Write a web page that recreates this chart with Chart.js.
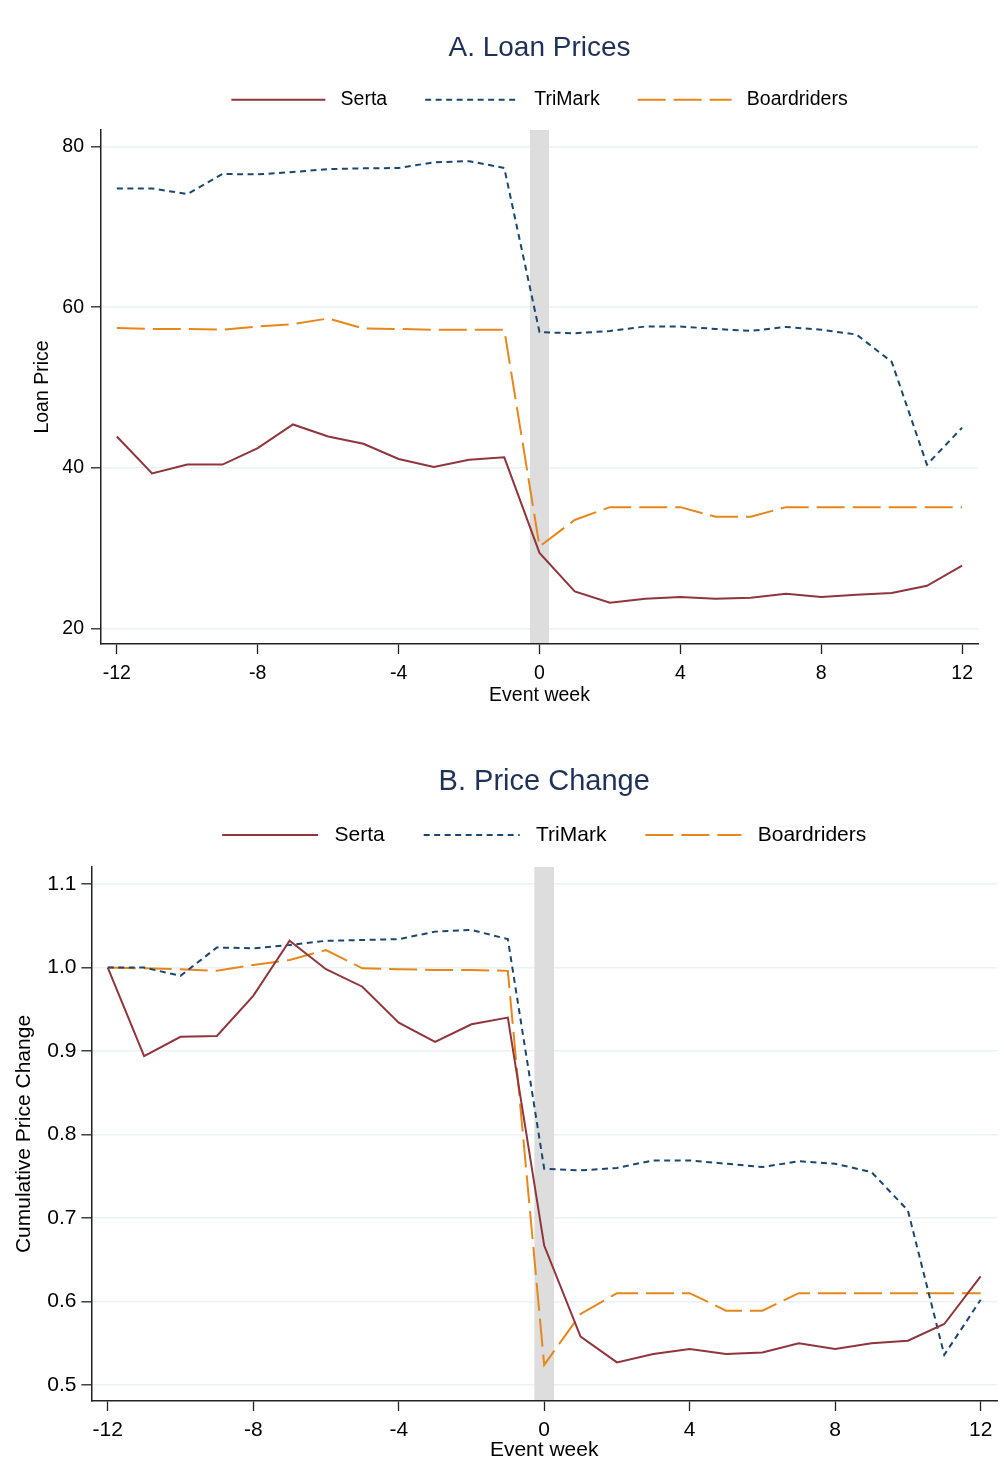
<!DOCTYPE html>
<html>
<head>
<meta charset="utf-8">
<script src="https://cdn.jsdelivr.net/npm/chart.js@4.4.1/dist/chart.umd.min.js"></script>
<style>
  body { margin: 0; background: #fff; }
  canvas { display: block; }
</style>
</head>
<body>
<canvas id="loanChart" width="1004" height="732"></canvas>
<canvas id="changeChart" width="1004" height="732"></canvas>
<script>
// event weeks
const weeks = [-12, -11, -10, -9, -8, -7, -6, -5, -4, -3, -2, -1, 0, 1, 2, 3, 4, 5, 6, 7, 8, 9, 10, 11, 12];

// A. loan prices
const sertaPrice = [43.9, 39.3, 40.4, 40.4, 42.45, 45.4, 43.9, 43.0, 41.1, 40.1, 41.0, 41.3, 29.4, 24.6, 23.2, 23.7, 23.9, 23.7, 23.8, 24.3, 23.9, 24.2, 24.4, 25.3, 27.8];
const trimarkPrice = [74.8, 74.8, 74.1, 76.6, 76.55, 76.85, 77.2, 77.3, 77.35, 78.05, 78.2, 77.35, 56.9, 56.75, 57.05, 57.6, 57.6, 57.3, 57.05, 57.55, 57.2, 56.6, 53.2, 40.4, 45.0];
const boardPrice = [57.4, 57.3, 57.3, 57.2, 57.6, 57.9, 58.6, 57.35, 57.3, 57.2, 57.2, 57.2, 30.2, 33.5, 35.1, 35.1, 35.1, 33.9, 33.9, 35.1, 35.1, 35.1, 35.1, 35.1, 35.1];

// B. cumulative price change
const sertaChange = [1.0, 0.894, 0.917, 0.918, 0.966, 1.032, 0.998, 0.977, 0.934, 0.911, 0.932, 0.940, 0.667, 0.558, 0.527, 0.537, 0.543, 0.537, 0.539, 0.550, 0.543, 0.550, 0.553, 0.573, 0.630];
const trimarkChange = [1.0, 1.0, 0.990, 1.024, 1.023, 1.027, 1.032, 1.033, 1.034, 1.043, 1.045, 1.034, 0.759, 0.757, 0.760, 0.769, 0.769, 0.765, 0.761, 0.768, 0.765, 0.755, 0.709, 0.536, 0.602];
const boardChange = [1.0, 0.999, 0.998, 0.996, 1.003, 1.009, 1.021, 0.999, 0.998, 0.997, 0.997, 0.996, 0.524, 0.585, 0.610, 0.610, 0.610, 0.589, 0.589, 0.610, 0.610, 0.610, 0.610, 0.610, 0.610];

const seriesNames = ['Serta', 'TriMark', 'Boardriders'];
const xTicks = [-12, -8, -4, 0, 4, 8, 12];
const yTicksPrice = [20, 40, 60, 80];
const yTicksChange = [0.5, 0.6, 0.7, 0.8, 0.9, 1.0, 1.1];
const eventBand = [-0.27, 0.27];

Chart.defaults.font.family = '"Liberation Sans", Arial, sans-serif';
Chart.defaults.color = '#000';

const bandPlugin = {
    id: 'eventBand',
    beforeDatasetsDraw(chart) {
        const {ctx, chartArea, scales} = chart;
        const x0 = scales.x.getPixelForValue(eventBand[0]);
        const x1 = scales.x.getPixelForValue(eventBand[1]);
        ctx.save();
        ctx.fillStyle = '#dddddd';
        ctx.fillRect(x0, chartArea.top, x1 - x0, chartArea.bottom - chartArea.top - 1);
        ctx.restore();
    }
};

function makeDatasets(values) {
    const styles = [
        {color: '#90353b', dash: []},
        {color: '#1a476f', dash: [6, 4.5]},
        {color: '#e8861a', dash: [28, 8]}
    ];
    return values.map((vals, i) => ({
        label: seriesNames[i],
        data: weeks.map((w, j) => ({x: w, y: vals[j]})),
        borderColor: styles[i].color,
        backgroundColor: styles[i].color,
        borderDash: styles[i].dash,
        borderWidth: 2,
        pointRadius: 0,
        tension: 0
    }));
}

function drawChart(canvasId, cfg) {
    const s = cfg.fontSize;
    new Chart(document.getElementById(canvasId), {
        type: 'line',
        data: {datasets: makeDatasets(cfg.values)},
        plugins: [bandPlugin],
        options: {
            responsive: false,
            animation: false,
            devicePixelRatio: 1,
            layout: {padding: {left: 0, right: cfg.padRight, top: 0, bottom: 0}},
            plugins: {
                tooltip: {enabled: false},
                title: {
                    display: true,
                    text: cfg.title,
                    fullSize: false,
                    color: '#1f3158',
                    font: {size: cfg.titleSize, weight: 'normal'},
                    padding: {top: cfg.titleTop, bottom: cfg.titleBottom}
                },
                legend: {
                    display: true,
                    fullSize: false,
                    labels: {
                        usePointStyle: true,
                        pointStyle: 'line',
                        pointStyleWidth: cfg.legendLine,
                        padding: cfg.legendGap,
                        font: {size: s},
                        color: '#000',
                        generateLabels(chart) {
                            const items = Chart.defaults.plugins.legend.labels.generateLabels(chart);
                            items.forEach(it => {
                                const ds = chart.data.datasets[it.datasetIndex];
                                it.text = ' ' + it.text;
                                it.lineDash = ds.borderDash;
                                it.lineWidth = ds.borderWidth;
                                it.strokeStyle = ds.borderColor;
                            });
                            return items;
                        }
                    }
                }
            },
            scales: {
                x: {
                    type: 'linear',
                    min: -12.45,
                    max: 12.45,
                    afterBuildTicks: sc => { sc.ticks = xTicks.map(v => ({value: v})); },
                    afterFit: sc => { sc.height = cfg.xHeight; },
                    grid: {drawOnChartArea: false, color: 'rgba(0,0,0,0)', tickColor: '#222', tickLength: 10, tickWidth: 1.3},
                    border: {color: '#222', width: 1.5},
                    ticks: {font: {size: s}, padding: cfg.xTickPad, maxRotation: 0},
                    title: {display: true, text: 'Event week', font: {size: s}, padding: {top: 0, bottom: cfg.xTitleBottom}}
                },
                xTop: {
                    type: 'linear',
                    position: 'top',
                    display: true,
                    grid: {display: false, drawTicks: false},
                    border: {display: false},
                    ticks: {display: false},
                    afterFit: sc => { sc.height = cfg.topGap; }
                },
                y: {
                    type: 'linear',
                    min: cfg.yMin,
                    max: cfg.yMax,
                    afterBuildTicks: sc => { sc.ticks = cfg.yTicks.map(v => ({value: v})); },
                    afterFit: sc => { sc.width = cfg.yWidth; },
                    grid: {color: '#eaf2f3', lineWidth: 1.6, tickColor: '#222', tickLength: 10, tickWidth: 1.3},
                    border: {color: '#222', width: 1.5},
                    ticks: {font: {size: s}, padding: cfg.yTickPad, callback: cfg.yFormat},
                    title: {display: true, text: cfg.yTitle, font: {size: s}, padding: {top: cfg.yTitleTop, bottom: 0}}
                }
            }
        }
    });
}

drawChart('loanChart', {
    values: [sertaPrice, trimarkPrice, boardPrice],
    title: 'A. Loan Prices',
    yTitle: 'Loan Price',
    yTicks: yTicksPrice,
    yMin: 18.05, yMax: 82.08,
    yFormat: v => String(v),
    fontSize: 19.5, titleSize: 28,
    titleTop: 31.2, titleBottom: -12.8,
    legendLine: 94, legendGap: 38,
    topGap: 10.5,
    padRight: 26, yWidth: 101, xHeight: 88,
    xTickPad: 8, xTitleBottom: 25, yTickPad: 7, yTitleTop: 31
});

drawChart('changeChart', {
    values: [sertaChange, trimarkChange, boardChange],
    title: 'B. Price Change',
    yTitle: 'Cumulative Price Change',
    yTicks: yTicksChange,
    yMin: 0.4808, yMax: 1.1204,
    yFormat: v => v.toFixed(1),
    fontSize: 21, titleSize: 29,
    titleTop: 32.6, titleBottom: -13.9,
    legendLine: 96, legendGap: 39,
    topGap: 11.5,
    padRight: 7, yWidth: 91.4, xHeight: 63,
    xTickPad: 6.4, xTitleBottom: 1.4, yTickPad: 5, yTitleTop: 11.4
});
</script>
</body>
</html>
